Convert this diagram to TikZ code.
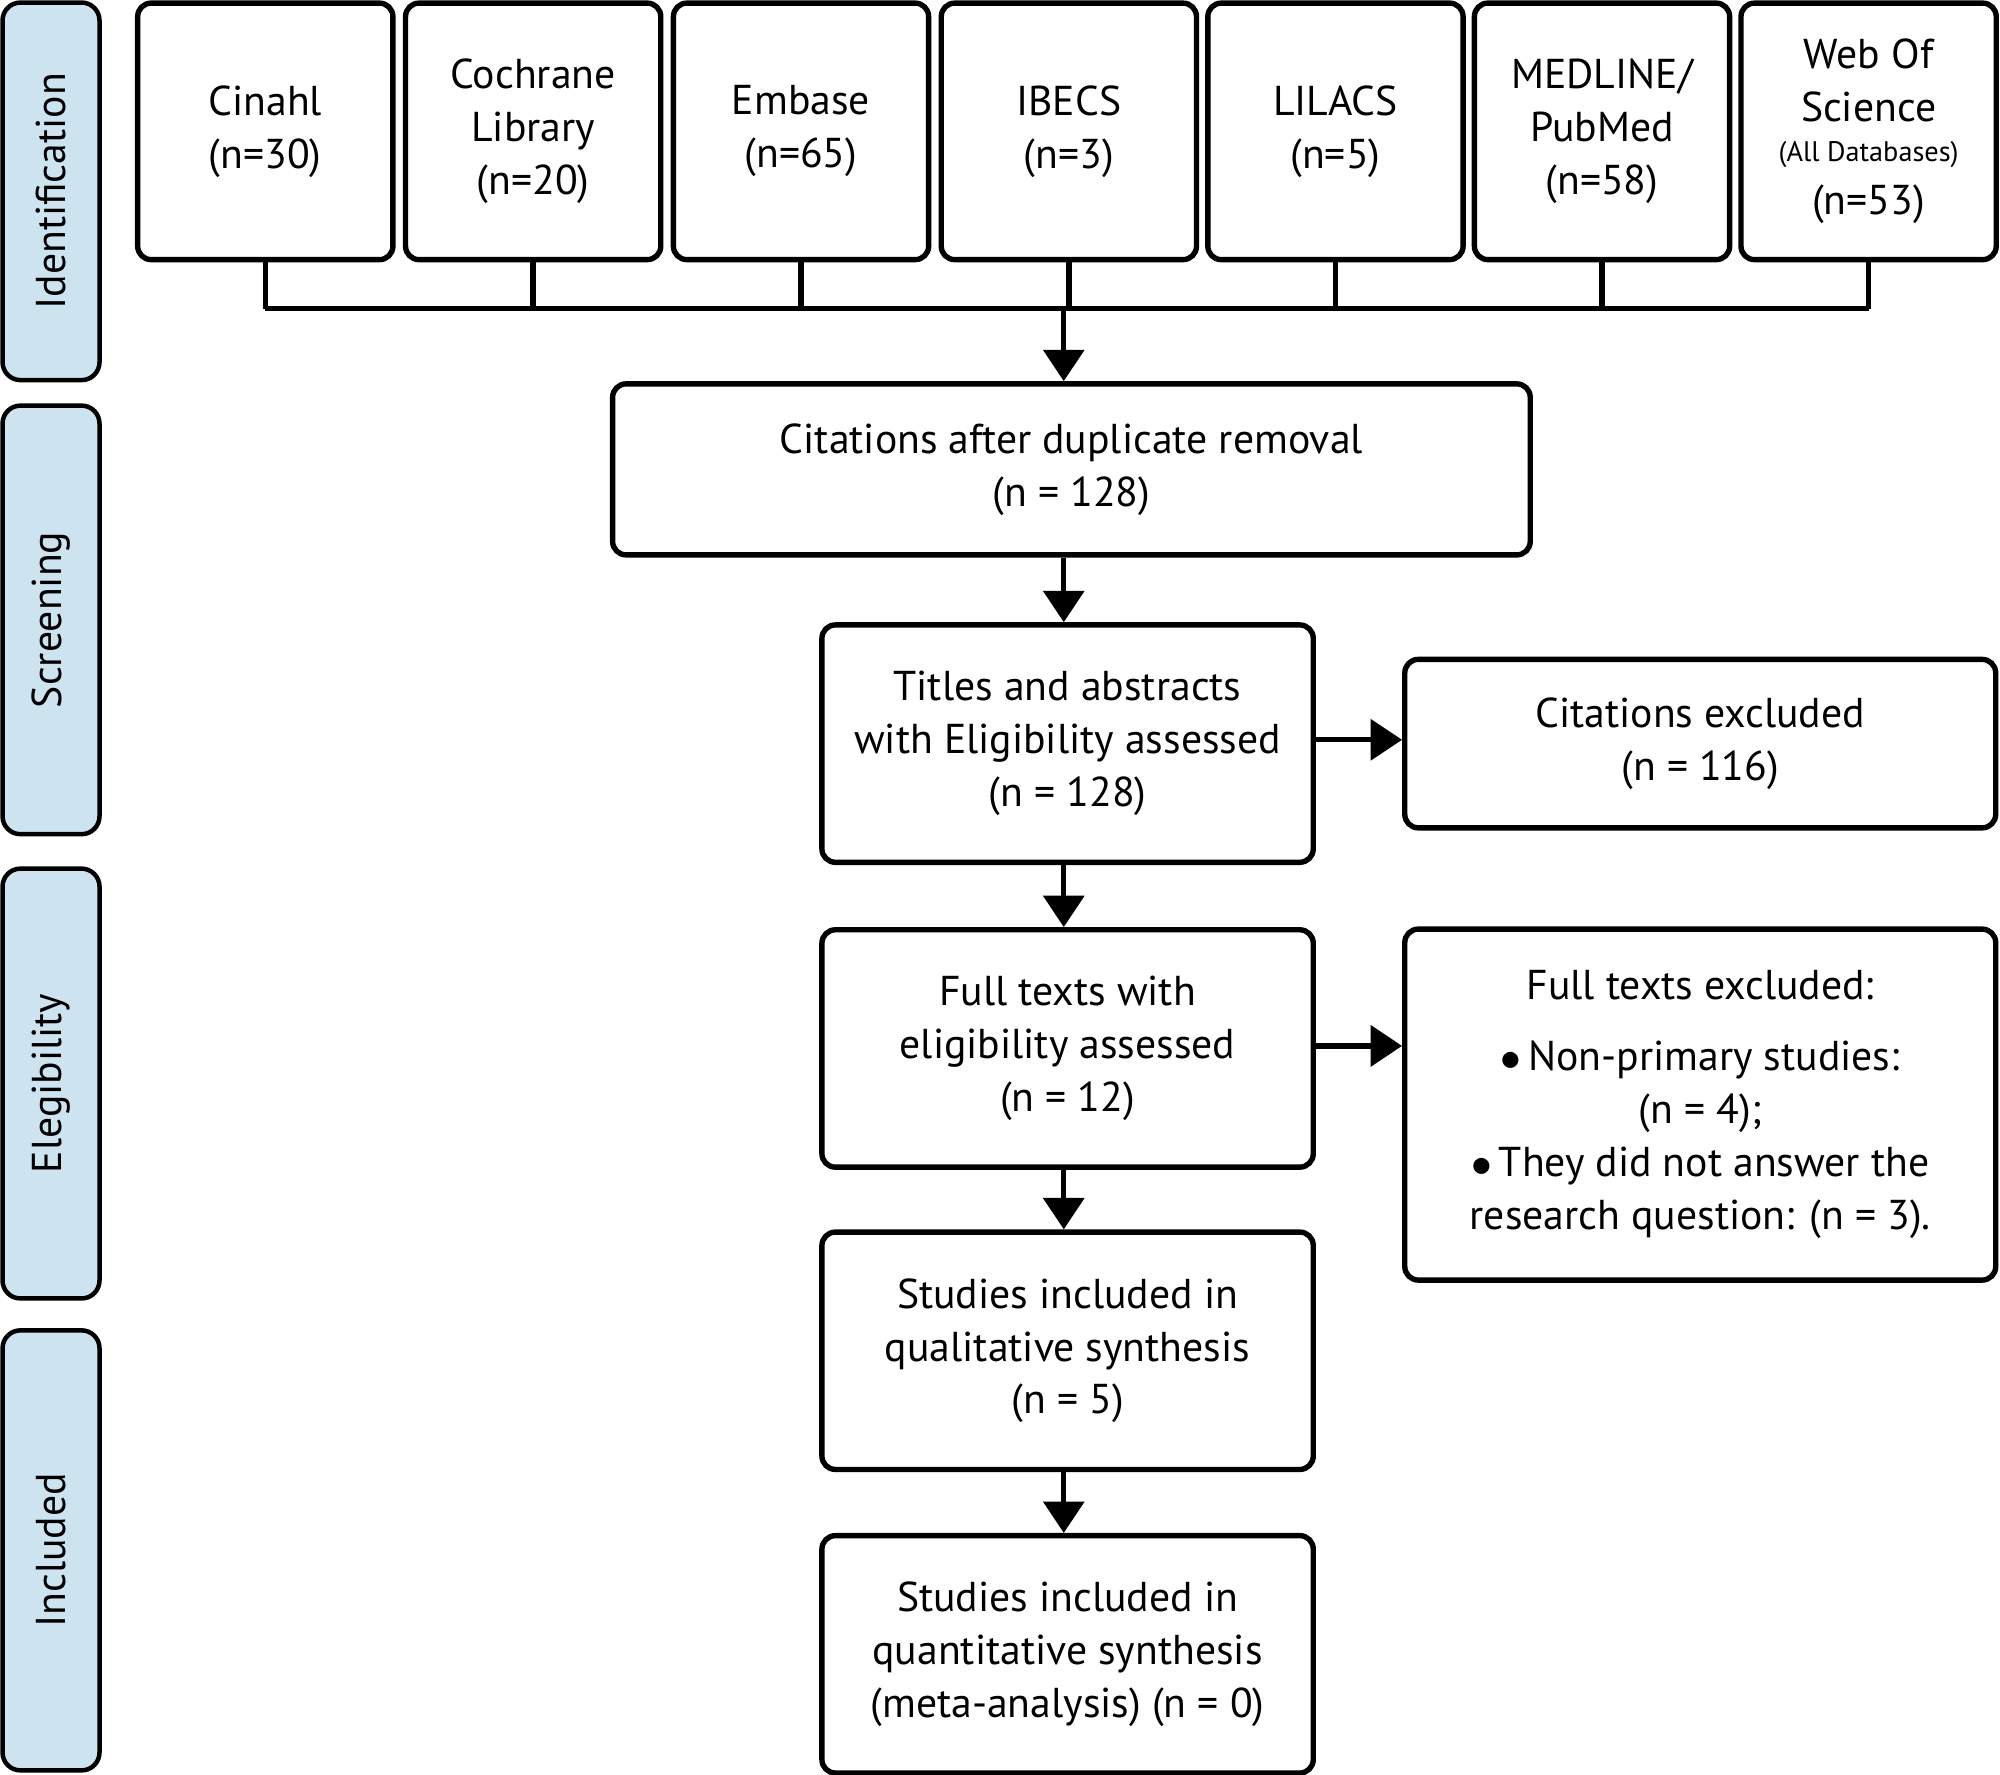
\documentclass[tikz,border=0pt]{standalone}
\usepackage{fontspec}
\setmainfont{PT Sans}
\usetikzlibrary{arrows.meta}
\definecolor{phaseblue}{RGB}{205,227,240}
\tikzset{
  box/.style={draw, line width=1.2pt, rounded corners=3pt, align=center,
    inner sep=0pt, font=\fontsize{9.3}{11.8}\selectfont},
  phase/.style={draw, line width=1pt, rounded corners=4pt, fill=phaseblue,
    minimum width=0.76cm, inner sep=0pt},
  arr/.style={line width=1.2pt, -{Triangle[width=9pt,length=7pt]}},
}
\begin{document}
\begin{tikzpicture}[x=0.01cm, y=-0.01cm]
  \useasboundingbox (0,0) rectangle (1568,1391);
  % phases
  \foreach \ya/\yb/\lab in {2/298/Identification, 318/654/Screening,
      681/1018/Elegibility, 1043/1388/Included}{
    \node[phase, minimum height={(\yb-\ya)*0.01cm}] at (40,{(\ya+\yb)/2}) {};
    \node[rotate=90, font=\fontsize{9.3}{11.8}\selectfont] at (40,{(\ya+\yb)/2}) {\lab};
  }
  % databases
  \node[box, minimum width=2cm, minimum height=2.01cm] (cin) at (208,103) {Cinahl\\(n=30)};
  \node[box, minimum width=2cm, minimum height=2.01cm] (coc) at (418,103) {Cochrane\\Library\\(n=20)};
  \node[box, minimum width=2cm, minimum height=2.01cm] (emb) at (628,103) {Embase\\(n=65)};
  \node[box, minimum width=2cm, minimum height=2.01cm] (ibe) at (838,103) {IBECS\\(n=3)};
  \node[box, minimum width=2cm, minimum height=2.01cm] (lil) at (1047,103) {LILACS\\(n=5)};
  \node[box, minimum width=2cm, minimum height=2.01cm] (med) at (1256,103) {MEDLINE/\\PubMed\\(n=58)};
  \node[box, minimum width=2cm, minimum height=2.01cm] (wos) at (1465,103)
    {Web Of\\Science\\[-3pt]{\fontsize{6.3}{7}\selectfont(All Databases)}\\(n=53)};
  \coordinate (join) at (834,242);
  \foreach \n in {cin,coc,emb,ibe,lil,med,wos}
    \draw[line width=1.2pt] (\n.south) -- (\n.south |- join);
  \draw[line width=1.2pt] (cin.south |- join) -- (wos.south |- join);
  % flow
  \node[box, minimum width=7.19cm, minimum height=1.34cm] (dup) at (840,368)
    {Citations after duplicate removal\\(n = 128)};
  \node[box, minimum width=3.85cm, minimum height=1.86cm] (tit) at (837,583)
    {Titles and abstracts\\with Eligibility assessed\\(n = 128)};
  \node[box, minimum width=4.63cm, minimum height=1.32cm] (cex) at (1333,583)
    {Citations excluded\\(n = 116)};
  \node[box, minimum width=3.85cm, minimum height=1.86cm] (ful) at (837,822)
    {Full texts with\\eligibility assessed\\(n = 12)};
  \node[box, minimum width=4.63cm, minimum height=2.75cm] (fex) at (1333,866)
    {Full texts excluded:\\[4pt]$\bullet$\,Non-primary studies:\\(n = 4);\\$\bullet$\,They did not answer the\\research question: (n = 3).};
  \node[box, minimum width=3.85cm, minimum height=1.86cm] (qual) at (837,1059)
    {Studies included in\\qualitative synthesis\\(n = 5)};
  \node[box, minimum width=3.85cm, minimum height=1.86cm] (quan) at (837,1297)
    {Studies included in\\quantitative synthesis\\(meta-analysis) (n = 0)};
  \draw[arr] (join) -- (join |- dup.north);
  \draw[arr] (dup.south -| join) -- (tit.north -| join);
  \draw[arr] (tit.south -| join) -- (ful.north -| join);
  \draw[arr] (ful.south -| join) -- (qual.north -| join);
  \draw[arr] (qual.south -| join) -- (quan.north -| join);
  \draw[arr] (tit.east |- 0,580) -- (cex.west |- 0,580);
  \draw[arr] (ful.east |- 0,820) -- (fex.west |- 0,820);
\end{tikzpicture}
\end{document}
